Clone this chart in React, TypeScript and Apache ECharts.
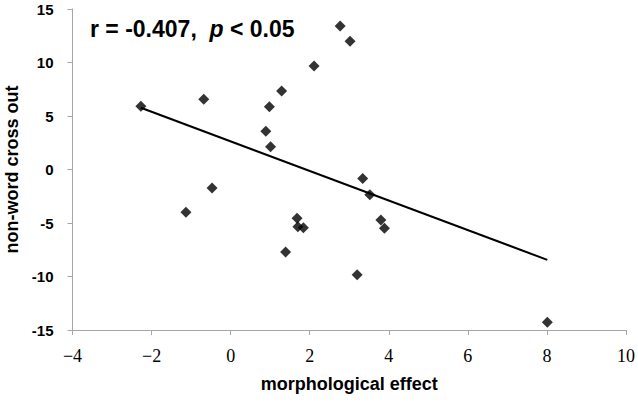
import React, { useEffect, useRef } from "react";
import * as echarts from "echarts";

const xValues = [-2.27, -0.68, 0.98, 1.29, 2.11, 2.77, 3.02, 0.89, 1.01, 3.34, -1.13, -0.47, 3.52, 1.68, 1.70, 1.84, 1.39, 3.20, 3.80, 3.89, 8.01];
const yValues = [5.9, 6.56, 5.87, 7.34, 9.67, 13.4, 11.98, 3.57, 2.13, -0.84, -4.0, -1.73, -2.35, -4.56, -5.34, -5.44, -7.71, -9.83, -4.72, -5.5, -14.28];
const xTitle = "morphological effect";
const yTitle = "non-word cross out";
const statR = "r = -0.407,  ";
const statP = "p";
const statRest = " < 0.05";

function regression(xs: number[], ys: number[]) {
  const n = xs.length;
  const mx = xs.reduce((a, b) => a + b, 0) / n;
  const my = ys.reduce((a, b) => a + b, 0) / n;
  let sxy = 0, sxx = 0;
  for (let i = 0; i < n; i++) {
    sxy += (xs[i] - mx) * (ys[i] - my);
    sxx += (xs[i] - mx) * (xs[i] - mx);
  }
  const slope = sxy / sxx;
  return { slope, intercept: my - slope * mx };
}

export default function App() {
  const ref = useRef<HTMLDivElement>(null);
  useEffect(() => {
    if (!ref.current) return;
    const chart = echarts.init(ref.current, undefined, { renderer: "svg" });
    const pts = xValues.map((x, i) => [x, yValues[i]]);
    const { slope, intercept } = regression(xValues, yValues);
    const xmin = Math.min(...xValues);
    const xmax = Math.max(...xValues);
    const trend = [
      [xmin, slope * xmin + intercept],
      [xmax, slope * xmax + intercept],
    ];
    const axisColor = "#a6a6a6";
    const sans = "Liberation Sans, Arial, sans-serif";
    chart.setOption({
      animation: false,
      backgroundColor: "#ffffff",
      grid: { left: 72.5, right: 12, top: 9, bottom: 73, containLabel: false, outerBoundsMode: "none" },
      title: {
        left: 85,
        top: 12,
        text: `{a|${statR}}{b|${statP}}{a|${statRest}}`,
        textStyle: {
          rich: {
            a: { fontFamily: sans, fontWeight: "bold", fontSize: 23, color: "#000" },
            b: { fontFamily: sans, fontWeight: "bold", fontStyle: "italic", fontSize: 23, color: "#000" },
          },
        },
      },
      xAxis: {
        type: "value",
        min: -4,
        max: 10,
        interval: 2,
        name: xTitle,
        nameLocation: "middle",
        nameGap: 45,
        nameTextStyle: { fontFamily: sans, fontWeight: "bold", fontSize: 18, color: "#000" },
        axisLine: { show: true, onZero: false, lineStyle: { color: axisColor, width: 1 } },
        axisTick: { show: true, inside: false, length: 5, lineStyle: { color: axisColor } },
        axisLabel: {
          margin: 17,
          fontFamily: "Liberation Serif, DejaVu Serif, serif",
          fontSize: 18,
          color: "#000",
          formatter: (v: number) => (v < 0 ? "\u2212" + Math.abs(v) : String(v)),
        },
        splitLine: { show: false },
      },
      yAxis: {
        type: "value",
        min: -15,
        max: 15,
        interval: 5,
        name: yTitle,
        nameLocation: "middle",
        nameGap: 52,
        nameRotate: 90,
        nameTextStyle: { fontFamily: sans, fontWeight: "bold", fontSize: 18, lineHeight: 18, color: "#000" },
        axisLine: { show: true, onZero: false, lineStyle: { color: axisColor, width: 1 } },
        axisTick: { show: true, inside: false, length: 5, lineStyle: { color: axisColor } },
        axisLabel: {
          margin: 19,
          fontFamily: sans,
          fontWeight: "bold",
          fontSize: 15,
          color: "#000",
        },
        splitLine: { show: false },
      },
      series: [
        {
          type: "line",
          data: trend,
          symbol: "none",
          lineStyle: { color: "#000", width: 2 },
          silent: true,
          z: 1,
        },
        {
          type: "scatter",
          data: pts,
          symbol: "diamond",
          symbolSize: [11, 11],
          itemStyle: { color: "#000" },
          z: 2,
        },
      ],
    });
    return () => chart.dispose();
  }, []);
  return <div ref={ref} style={{ width: 638, height: 403, position: "absolute", left: 0, top: 0 }} />;
}
